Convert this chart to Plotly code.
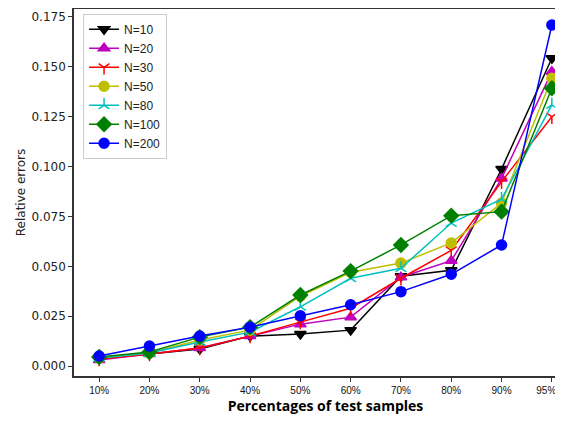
import plotly.graph_objects as go

categories = ["10%", "20%", "30%", "40%", "50%", "60%", "70%", "80%", "90%", "95%"]
tick_labels = ["10%", "20%", "30%", "40%", "50%", "60%", "70%", "80%", "90%", "95%\u00a0\u00a0\u00a0\u00a0"]
series_names = ["N=10", "N=20", "N=30", "N=50", "N=80", "N=100", "N=200"]
n10 = [0.0035, 0.006, 0.0085, 0.015, 0.016, 0.018, 0.045, 0.048, 0.0988, 0.1543]
n20 = [0.0030, 0.006, 0.009, 0.015, 0.021, 0.0245, 0.0445, 0.0528, 0.094, 0.1476]
n30 = [0.0035, 0.006, 0.009, 0.015, 0.022, 0.029, 0.044, 0.058, 0.0924, 0.125]
n50 = [0.0040, 0.0065, 0.013, 0.018, 0.035, 0.047, 0.0516, 0.0617, 0.0817, 0.1443]
n80 = [0.0040, 0.0065, 0.012, 0.017, 0.0297, 0.044, 0.049, 0.0717, 0.0837, 0.1309]
n100 = [0.0045, 0.007, 0.0145, 0.0195, 0.0356, 0.0476, 0.0607, 0.0754, 0.0774, 0.1393]
n200 = [0.0050, 0.010, 0.015, 0.0195, 0.0252, 0.0307, 0.0373, 0.046, 0.0607, 0.171]

values = [n10, n20, n30, n50, n80, n100, n200]
colors = ["#000000", "#bf00bf", "#ff0000", "#bfbf00", "#00bfbf", "#008000", "#0000ff"]
symbols = ["triangle-down", "triangle-up", "y-down-open", "circle", "y-up-open", "diamond", "circle"]
sizes = [10, 10, 9, 10, 9, 11, 10]

fig = go.Figure()
for name, vals, c, s, sz in zip(series_names, values, colors, symbols, sizes):
    fig.add_trace(go.Scatter(
        x=list(range(len(categories))), y=vals, name=name, mode="lines+markers",
        line=dict(color=c, width=1.5), cliponaxis=False,
        marker=dict(symbol=s, size=sz, color=c, line=dict(color=c, width=1.5)),
    ))

fig.update_layout(
    width=569, height=421,
    margin=dict(l=66, r=0, t=1, b=53),
    plot_bgcolor="white", paper_bgcolor="white",
    font=dict(family="DejaVu Sans", size=11, color="#222"),
    showlegend=True,
    legend=dict(x=0.018, y=0.987, xanchor="left", yanchor="top",
                bordercolor="#cccccc", borderwidth=1, bgcolor="white",
                font=dict(size=12, family="Liberation Sans"), itemwidth=30,
                tracegroupgap=0),
)
fig.update_xaxes(
    tickmode="array", tickvals=list(range(len(categories))), ticktext=tick_labels,
    range=[-0.5, 9.5], showline=True, linecolor="#333", linewidth=1.5, mirror=True,
    ticks="outside", ticklen=4, tickcolor="#333", showgrid=False, zeroline=False,
    automargin=False,
    tickfont=dict(size=10, family="Liberation Sans", color="#111"),
    title=dict(text="<b>Percentages of test samples</b>", font=dict(size=14, family="Open Sans", color="#000"), standoff=6),
)
fig.update_yaxes(
    range=[-0.005, 0.179], tickvals=[0, 0.025, 0.05, 0.075, 0.1, 0.125, 0.15, 0.175],
    tickformat=".3f", showline=True, linecolor="#333", linewidth=1.5, mirror=True,
    ticks="outside", ticklen=4, tickcolor="#333", showgrid=False, zeroline=False,
    automargin=False,
    tickfont=dict(size=12, family="DejaVu Sans"),
    title=dict(text="Relative errors", font=dict(size=12, family="DejaVu Sans", color="#222"), standoff=3),
)
fig.write_html("out.html")
